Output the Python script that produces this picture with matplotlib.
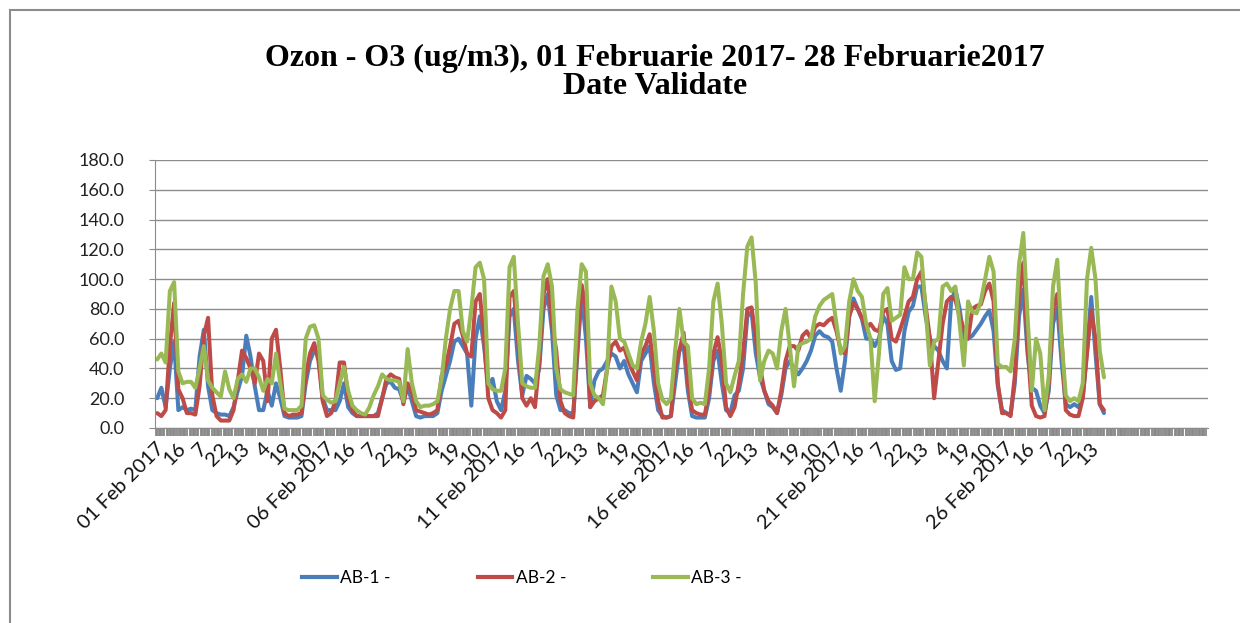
import numpy as np
import matplotlib
matplotlib.use("Agg")
import matplotlib.pyplot as plt
from matplotlib.patches import Rectangle
from matplotlib.lines import Line2D

# ---------------- data ----------------
n_categories = 744          # axis template: 31 days x 24 hours
sample_hours = list(range(1, 672, 3))   # 3-hourly readings, 01-28 Feb 2017

ab1 = [20, 27, 14, 40, 58, 12, 14, 12,
       13, 12, 48, 66, 28, 12, 10, 9,
       9, 8, 14, 25, 35, 62, 48, 28,
       12, 12, 25, 15, 30, 20, 8, 7,
       7, 7, 8, 30, 45, 52, 50, 20,
       12, 12, 12, 18, 30, 14, 10, 8,
       8, 8, 8, 8, 10, 20, 30, 31,
       27, 26, 18, 28, 18, 8, 7, 8,
       8, 8, 10, 25, 35, 45, 58, 60,
       55, 50, 15, 60, 75, 55, 28, 33,
       18, 12, 25, 75, 80, 45, 22, 35,
       33, 30, 40, 80, 90, 65, 22, 12,
       12, 10, 10, 50, 90, 60, 14, 32,
       38, 40, 45, 50, 48, 40, 45, 36,
       30, 24, 45, 50, 55, 30, 12, 8,
       7, 8, 30, 52, 55, 25, 8, 7,
       7, 7, 20, 45, 52, 30, 12, 10,
       22, 25, 40, 75, 78, 50, 34, 25,
       16, 14, 10, 22, 40, 45, 40, 36,
       40, 45, 52, 62, 65, 62, 61, 58,
       40, 25, 45, 75, 87, 80, 73, 60,
       60, 55, 60, 75, 70, 45, 39, 40,
       65, 78, 82, 95, 95, 75, 60, 55,
       52, 45, 40, 85, 93, 80, 60, 60,
       62, 66, 70, 75, 79, 65, 28, 12,
       10, 9, 30, 75, 93, 50, 27, 25,
       15, 10, 25, 70, 81, 45, 16, 14,
       16, 14, 20, 52, 88, 50, 16, 10]

ab2 = [10, 8, 12, 55, 84, 26, 20, 10,
       10, 9, 28, 62, 74, 22, 8, 5,
       5, 5, 12, 32, 52, 47, 40, 30,
       50, 45, 18, 60, 66, 40, 10, 8,
       9, 9, 10, 35, 50, 57, 45, 18,
       8, 10, 18, 44, 44, 20, 12, 8,
       8, 8, 8, 8, 8, 20, 33, 36,
       34, 33, 16, 30, 24, 12, 11, 10,
       9, 10, 12, 35, 42, 55, 70, 72,
       62, 50, 48, 85, 90, 60, 20, 12,
       10, 7, 12, 88, 92, 60, 20, 15,
       20, 14, 45, 90, 100, 70, 52, 18,
       10, 8, 7, 55, 96, 80, 14, 18,
       20, 22, 40, 55, 58, 52, 54, 45,
       38, 32, 50, 55, 63, 40, 18, 7,
       7, 8, 40, 52, 64, 30, 12, 10,
       9, 9, 25, 50, 61, 45, 14, 8,
       14, 30, 50, 80, 81, 60, 41, 25,
       18, 15, 10, 25, 45, 55, 55, 52,
       62, 65, 60, 68, 70, 69, 72, 74,
       65, 52, 50, 75, 84, 80, 74, 67,
       70, 66, 65, 78, 80, 60, 58, 66,
       75, 85, 88, 100, 105, 82, 60, 20,
       45, 70, 85, 88, 86, 75, 66, 60,
       80, 82, 83, 92, 97, 85, 30, 10,
       10, 8, 35, 90, 111, 55, 15, 8,
       7, 8, 30, 80, 90, 60, 12, 9,
       8, 8, 20, 50, 79, 60, 16, 12]

ab3 = [46, 50, 44, 92, 98, 38, 30, 31,
       31, 27, 40, 55, 32, 27, 24, 21,
       38, 26, 20, 33, 36, 31, 40, 40,
       34, 25, 33, 30, 50, 30, 13, 12,
       12, 12, 15, 60, 68, 69, 60, 22,
       19, 17, 18, 30, 41, 25, 15, 12,
       10, 9, 14, 22, 28, 36, 33, 32,
       32, 31, 18, 53, 30, 18, 14, 15,
       15, 16, 18, 33, 60, 80, 92, 92,
       65, 58, 80, 108, 111, 100, 30, 26,
       25, 25, 40, 108, 115, 70, 30, 28,
       27, 27, 55, 102, 110, 95, 40, 26,
       24, 23, 22, 80, 110, 105, 30, 22,
       20, 16, 40, 95, 85, 60, 58, 50,
       42, 40, 58, 70, 88, 65, 30, 19,
       16, 20, 52, 80, 58, 55, 20, 16,
       17, 16, 40, 85, 97, 70, 30, 24,
       35, 45, 90, 122, 128, 97, 32, 45,
       52, 50, 40, 65, 80, 55, 28, 55,
       57, 58, 60, 75, 82, 86, 88, 90,
       70, 50, 55, 85, 100, 92, 88, 70,
       60, 18, 50, 90, 94, 72, 74, 76,
       108, 100, 100, 118, 115, 80, 42, 58,
       60, 95, 97, 92, 95, 70, 42, 85,
       78, 77, 85, 100, 115, 105, 43, 41,
       41, 38, 60, 110, 131, 75, 25, 60,
       50, 12, 35, 95, 113, 60, 22, 18,
       20, 18, 30, 100, 121, 100, 52, 34]

label_positions = list(range(0, 661, 15))
tick_labels = (["01 Feb 2017", "16", "7", "22", "13", "4", "19", "10"] +
               ["06 Feb 2017", "16", "7", "22", "13", "4", "19", "10"] +
               ["11 Feb 2017", "16", "7", "22", "13", "4", "19", "10"] +
               ["16 Feb 2017", "16", "7", "22", "13", "4", "19", "10"] +
               ["21 Feb 2017", "16", "7", "22", "13", "4", "19", "10"] +
               ["26 Feb 2017", "16", "7", "22", "13"])

series_names = ["AB-1 -", "AB-2 -", "AB-3 -"]
series_colors = ["#4A7EBB", "#BE4B48", "#98B954"]

# ---------------- figure ----------------
W, H = 1240, 623
fig = plt.figure(figsize=(W / 100, H / 100), dpi=100)
fig.patch.set_facecolor("white")

# outer chart frame
fig.add_artist(Rectangle((10 / W, -0.05), 1.1, 1 - 10 / H + 0.05,
                         transform=fig.transFigure, fill=False,
                         edgecolor="#8c8c8c", linewidth=1.5))

left, right, top, bottom = 155, 1208, 160, 428
ax = fig.add_axes([left / W, 1 - bottom / H, (right - left) / W, (bottom - top) / H])

for vals, name, col in zip([ab1, ab2, ab3], series_names, series_colors):
    ax.plot(sample_hours, vals, color=col, linewidth=2.9,
            solid_joinstyle="round", solid_capstyle="round", label=name)

ax.set_xlim(-0.5, n_categories - 0.5)
ax.set_ylim(0, 180)
ax.set_yticks(np.arange(0, 181, 20))
ax.set_yticklabels([f"{v:.1f}" for v in np.arange(0, 181, 20)])
ax.yaxis.grid(True, color="#8c8c8c", linewidth=1.0)
ax.set_axisbelow(True)

for s in ["top", "right"]:
    ax.spines[s].set_visible(False)
ax.spines["left"].set_color("#8c8c8c")
ax.spines["bottom"].set_color("#8c8c8c")

ax.tick_params(axis="y", length=4, color="#8c8c8c", labelsize=13,
               pad=18, labelcolor="#222222")
for t in ax.get_yticklabels():
    t.set_fontfamily("Lato")

# dense category tick band
band = [i for i in range(n_categories) if i % 8 != 7]
ax.set_xticks(band)
ax.set_xticklabels([])
ax.tick_params(axis="x", length=6, width=1.3, color="#888888", direction="out")

for pos, lab in zip(label_positions, tick_labels):
    ax.text(pos, -0.045, lab, transform=ax.get_xaxis_transform(),
            rotation=45, ha="right", va="top", rotation_mode="anchor",
            fontsize=14.5, fontfamily="Lato", color="#111111")

fig.text(655 / W, 1 - 58 / H, "Ozon - O3 (ug/m3), 01 Februarie 2017- 28 Februarie2017",
         ha="center", va="center", fontsize=23, fontweight="bold",
         fontfamily="Liberation Serif")
fig.text(655 / W, 1 - 87 / H, "Date Validate",
         ha="center", va="center", fontsize=23, fontweight="bold",
         fontfamily="Liberation Serif")

handles = [Line2D([], [], color=c, linewidth=3) for c in series_colors]
leg = fig.legend(handles, series_names, loc="center", ncol=3,
                 bbox_to_anchor=(522 / W, 1 - 578 / H), frameon=False,
                 prop={"family": "Lato", "size": 12.5}, handlelength=2.0,
                 handletextpad=0.2, columnspacing=5.0)

fig.savefig("out.png", dpi=100, facecolor="white")
